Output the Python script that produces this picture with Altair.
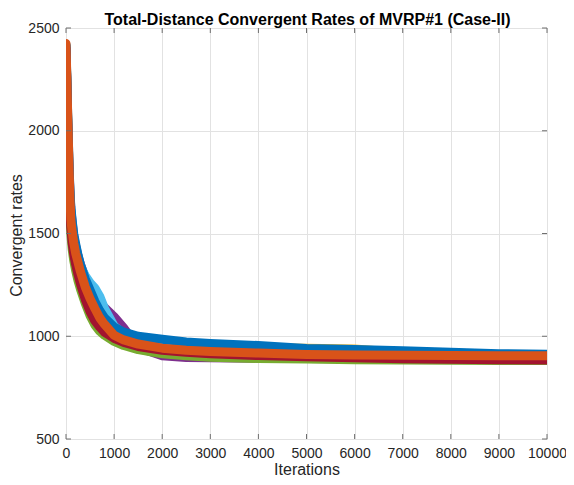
import altair as alt
import pandas as pd

iterations = [0, 10, 20, 30, 40, 60, 80, 100, 130, 160, 200, 250, 300, 400, 500, 600,
              700, 800, 1000, 1200, 1500, 2000, 2500, 3000, 4000, 5000, 6000, 7000,
              8000, 9000, 10000]

run1 = [2410, 2300, 2190, 2080, 1990, 1800, 1670, 1580, 1500, 1440, 1390, 1340, 1300, 1230, 1170, 1120,
        1080, 1050, 1010, 985, 960, 940, 928, 920, 910, 904, 900, 897, 895, 894, 893]
run2 = [2400, 2290, 2180, 2070, 1980, 1790, 1650, 1560, 1490, 1440, 1390, 1345, 1305, 1235, 1180, 1130,
        1090, 1060, 1020, 995, 970, 948, 935, 925, 914, 908, 903, 900, 898, 897, 896]
run3 = [2415, 2310, 2200, 2100, 2010, 1830, 1690, 1600, 1525, 1470, 1420, 1370, 1330, 1260, 1200, 1150,
        1110, 1075, 1030, 1005, 985, 965, 955, 948, 944, 942, 938, 920, 912, 908, 906]
run4 = [2405, 2300, 2190, 2090, 2000, 1840, 1710, 1620, 1550, 1490, 1440, 1390, 1350, 1285, 1235, 1195,
        1165, 1140, 1095, 1040, 945, 905, 897, 895, 893, 892, 891, 890, 890, 889, 889]
run5 = [2395, 2280, 2160, 2040, 1940, 1740, 1600, 1500, 1420, 1370, 1320, 1270, 1230, 1160, 1100, 1055,
        1025, 1005, 975, 955, 935, 915, 905, 898, 892, 889, 886, 884, 883, 882, 882]
run6 = [2420, 2310, 2200, 2100, 2010, 1830, 1700, 1610, 1540, 1480, 1430, 1380, 1340, 1295, 1260, 1235,
        1195, 1135, 1050, 1010, 985, 965, 955, 945, 935, 925, 918, 912, 908, 905, 903]
run7 = [2400, 2290, 2170, 2050, 1950, 1760, 1620, 1530, 1450, 1400, 1350, 1300, 1255, 1180, 1120, 1075,
        1045, 1020, 990, 970, 950, 932, 922, 915, 906, 900, 895, 891, 888, 886, 885]
run8 = [2415, 2320, 2220, 2120, 2040, 1860, 1720, 1630, 1560, 1500, 1450, 1395, 1350, 1280, 1225, 1170,
        1125, 1090, 1045, 1020, 1000, 985, 972, 965, 955, 940, 935, 930, 922, 915, 912]
run9 = [2425, 2330, 2230, 2130, 2040, 1850, 1690, 1570, 1505, 1455, 1405, 1360, 1315, 1240, 1183, 1135,
        1090, 1058, 1005, 982, 962, 942, 932, 926, 918, 911, 909, 907, 906, 905, 905]

runs = [run1, run2, run3, run4, run5, run6, run7, run8, run9]
run_names = ["Run 1", "Run 2", "Run 3", "Run 4", "Run 5", "Run 6", "Run 7", "Run 8", "Run 9"]
run_colors = ["#0072BD", "#D95319", "#EDB120", "#7E2F8E", "#77AC30", "#4DBEEE", "#A2142F",
              "#0072BD", "#D95319"]

x_ticks = list(range(0, 10001, 1000))
y_ticks = [500, 1000, 1500, 2000, 2500]
title_text = "Total-Distance Convergent Rates of MVRP#1 (Case-II)"

W, H = 481, 411
FONT = "Liberation Sans"
TXT = "#262626"
AX = "#6f6f6f"

xs = alt.Scale(domain=[0, 10000], nice=False)
ys = alt.Scale(domain=[500, 2500], nice=False)

x_enc = alt.X("iter:Q", scale=xs,
              axis=alt.Axis(values=x_ticks, format="d", title="Iterations", grid=True, ticks=False,
                            domain=False, labelPadding=7, labelFontSize=14, titleFontSize=16,
                            labelFont=FONT, titleFont=FONT, labelColor=TXT, titleColor=TXT,
                            titleFontWeight="normal", titleBaseline="alphabetic", titleY=35,
                            gridColor="#e2e2e2", gridWidth=1, labelFlush=False))
y_enc = alt.Y("val:Q", scale=ys,
              axis=alt.Axis(values=y_ticks, format="d", title="Convergent rates", grid=True, ticks=False,
                            domain=False, labelPadding=7, labelFontSize=14, titleFontSize=16,
                            labelFont=FONT, titleFont=FONT, labelColor=TXT, titleColor=TXT,
                            titleFontWeight="normal", titleBaseline="alphabetic", titleX=-45,
                            titleY=207, gridColor="#e2e2e2", gridWidth=1))

layers = []
for name, vals, col in zip(run_names, runs, run_colors):
    df = pd.DataFrame({"iter": iterations, "val": vals, "run": name})
    layers.append(
        alt.Chart(df).mark_line(color=col, strokeWidth=9, strokeCap="round",
                                strokeJoin="round", clip=True)
        .encode(x=x_enc, y=y_enc)
    )

# inward tick marks on all four sides (MATLAB box style)
xt = pd.DataFrame({"iter": x_ticks})
yt = pd.DataFrame({"val": y_ticks})
tick_layers = [
    alt.Chart(xt).mark_rule(color=AX, strokeWidth=1).encode(
        x=alt.X("iter:Q", scale=xs), y=alt.value(H), y2=alt.value(H - 5)),
    alt.Chart(xt).mark_rule(color=AX, strokeWidth=1).encode(
        x=alt.X("iter:Q", scale=xs), y=alt.value(0), y2=alt.value(5)),
    alt.Chart(yt).mark_rule(color=AX, strokeWidth=1).encode(
        y=alt.Y("val:Q", scale=ys), x=alt.value(0), x2=alt.value(5)),
    alt.Chart(yt).mark_rule(color=AX, strokeWidth=1).encode(
        y=alt.Y("val:Q", scale=ys), x=alt.value(W), x2=alt.value(W - 5)),
]

title_layer = alt.Chart(pd.DataFrame({"t": [title_text]})).mark_text(
    font=FONT, fontSize=16, fontWeight="bold", color="#000000",
    align="center", baseline="alphabetic"
).encode(x=alt.value(W / 2 + 1), y=alt.value(-3), text="t:N")

chart = alt.layer(*layers, *tick_layers, title_layer).properties(
    width=W, height=H,
    padding={"left": 58, "top": 20, "right": 19, "bottom": 38},
    autosize=alt.AutoSizeParams(type="none"),
).configure_view(stroke=AX, strokeWidth=1).configure(background="white")

chart.save("out.html", embed_options={"renderer": "svg", "actions": False})
